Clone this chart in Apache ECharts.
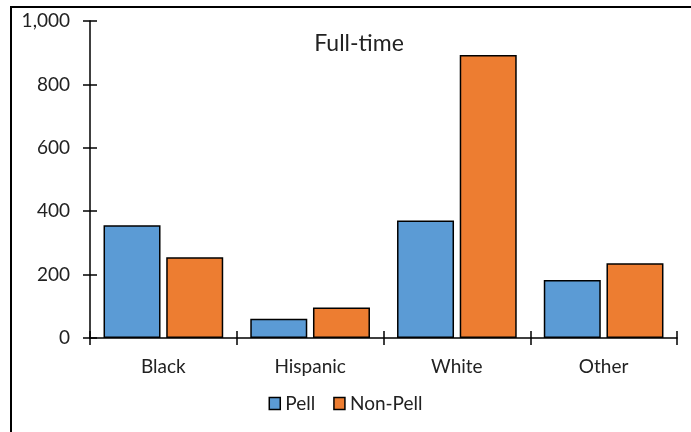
<!DOCTYPE html>
<html><head><meta charset="utf-8">
<script src="https://cdn.jsdelivr.net/npm/echarts@6/dist/echarts.min.js"></script>
<style>html,body{margin:0;padding:0;background:#fff}#c{width:691px;height:432px}</style>
</head><body><div id="c"></div>
<script>
var categories = ['Black', 'Hispanic', 'White', 'Other'];
var pell = [356, 61, 371, 183];
var nonPell = [255, 96, 893, 236];
var seriesNames = ['Pell', 'Non-Pell'];
var titleText = 'Full-time';

var FONT = 'Lato, "Open Sans", sans-serif';
var TXT = '#222';
var chart = echarts.init(document.getElementById('c'), null, {renderer: 'canvas'});
var tickStyle = {color: '#000', width: 1.5};
chart.setOption({
  animation: false,
  backgroundColor: '#fff',
  title: {text: titleText, left: 354, top: 27, textAlign: 'center',
    textStyle: {fontFamily: FONT, fontSize: 23, fontWeight: 'normal', color: TXT}},
  legend: {data: seriesNames, bottom: 14, left: 'center', icon: 'rect', itemWidth: 11, itemHeight: 12, itemGap: 18,
    textStyle: {fontFamily: FONT, fontSize: 19, color: TXT},
    itemStyle: {borderColor: '#000', borderWidth: 1.5}},
  grid: {left: 90, right: 14, top: 21, bottom: 94, containLabel: false},
  graphic: [{type: 'rect', shape: {x: 11, y: 7, width: 720, height: 500},
    style: {fill: 'none', stroke: '#000', lineWidth: 2}, z: -1}],
  xAxis: [
    {type: 'category', data: categories,
      axisLine: {lineStyle: tickStyle},
      axisTick: {show: true, length: 7, lineStyle: tickStyle},
      axisLabel: {fontFamily: FONT, fontSize: 19, color: TXT, margin: 19}},
    {type: 'category', data: categories, position: 'bottom',
      axisLine: {show: false},
      axisTick: {show: true, inside: true, length: 7, lineStyle: tickStyle},
      axisLabel: {show: false}}
  ],
  yAxis: [
    {type: 'value', min: 0, max: 1000, interval: 200,
      axisLine: {show: true, lineStyle: tickStyle},
      axisTick: {show: true, length: 7, lineStyle: tickStyle},
      splitLine: {show: false},
      axisLabel: {fontFamily: FONT, fontSize: 19, color: TXT, margin: 20,
        formatter: function(v){ return v.toLocaleString('en-US'); }}},
    {type: 'value', min: 0, max: 1000, interval: 200, position: 'left',
      axisLine: {show: false},
      axisTick: {show: true, inside: true, length: 7, lineStyle: tickStyle},
      splitLine: {show: false},
      axisLabel: {show: false}}
  ],
  series: [
    {name: seriesNames[0], type: 'bar', data: pell, barWidth: 57, barGap: '10%', z: 3,
      itemStyle: {color: '#5B9BD5', borderColor: '#000', borderWidth: 1.5}},
    {name: seriesNames[1], type: 'bar', data: nonPell, barWidth: 57, barGap: '10%', z: 3,
      itemStyle: {color: '#ED7D31', borderColor: '#000', borderWidth: 1.5}}
  ]
});
</script></body></html>
